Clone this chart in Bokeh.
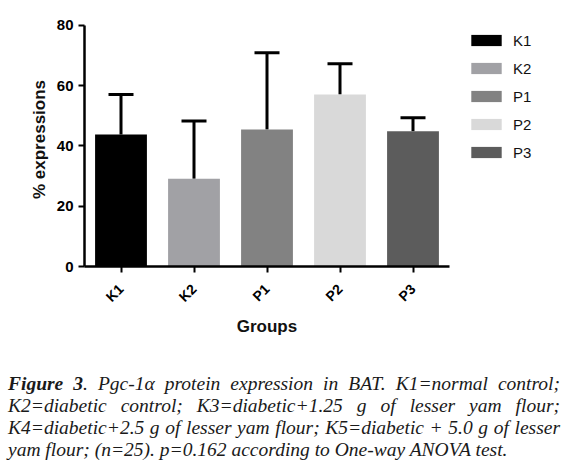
import math
from bokeh.plotting import figure
from bokeh.models import (ColumnDataSource, FactorRange, Range1d, Whisker, TeeHead,
                          Legend, LegendItem, Div, FixedTicker)
from bokeh.layouts import column
from bokeh.embed import file_html
from bokeh.resources import INLINE

# ---- data ----
groups = ["K1", "K2", "P1", "P2", "P3"]
means = [43.8, 29.1, 45.5, 57.1, 44.9]
errors = [13.3, 19.2, 25.4, 10.2, 4.5]
colors = ["#000000", "#a1a1a5", "#828282", "#d9d9d9", "#5c5c5c"]
y_ticks = [0, 20, 40, 60, 80]
y_label = "% expressions"
x_label = "Groups"
caption_lines = [
    "<b>Figure 3</b>. Pgc-1α protein expression in BAT. K1=normal control;",
    "K2=diabetic control; K3=diabetic+1.25 g of lesser yam flour;",
    "K4=diabetic+2.5 g of lesser yam flour; K5=diabetic + 5.0 g of lesser",
    "yam flour; (n=25). p=0.162 according to One-way ANOVA test.",
]

upper = [m + e for m, e in zip(means, errors)]
src = ColumnDataSource(dict(group=groups, mean=means, upper=upper, color=colors))

p = figure(x_range=FactorRange(factors=groups, range_padding=0),
           y_range=Range1d(0, 84.3),
           frame_width=365, frame_height=254,
           min_border_left=84, min_border_right=99,
           min_border_top=12, min_border_bottom=107,
           output_backend="svg", toolbar_location=None)

r = p.vbar(x="group", top="mean", bottom=0, width=0.71, source=src,
           fill_color="color", line_color=None)

w = Whisker(source=src, base="group", upper="upper", lower="mean",
            dimension="height", line_width=3, line_color="black",
            upper_head=TeeHead(size=25, line_width=3, line_color="black"),
            lower_head=None)
p.add_layout(w)

items = [LegendItem(label=g, renderers=[r], index=i) for i, g in enumerate(groups)]
legend = Legend(items=items, location="top_left", margin=18, padding=0,
                border_line_color=None, background_fill_alpha=0,
                glyph_width=38, glyph_height=14, label_standoff=8,
                spacing=8, label_height=20,
                label_text_font="Liberation Sans", label_text_font_size="15px",
                label_text_color="#111111")
p.add_layout(legend, "right")

p.xgrid.visible = False
p.ygrid.visible = False
p.outline_line_color = None

for ax in (p.xaxis[0], p.yaxis[0]):
    ax.axis_line_width = 2.5
    ax.axis_line_color = "black"
    ax.major_tick_line_width = 2
    ax.major_tick_line_color = "black"
    ax.major_tick_in = 0
    ax.major_tick_out = 6
    ax.minor_tick_line_color = None
    ax.major_label_text_font = "Liberation Sans"
    ax.major_label_text_font_style = "bold"
    ax.major_label_text_color = "black"
    ax.axis_label_text_font = "Liberation Sans"
    ax.axis_label_text_font_style = "bold"
    ax.axis_label_text_font_size = "17px"
    ax.axis_label_text_color = "#111111"

p.yaxis.ticker = FixedTicker(ticks=y_ticks)
p.yaxis.bounds = (0, 80)
p.yaxis.major_label_text_font_size = "15px"
p.yaxis.major_label_standoff = 5
p.yaxis.axis_label = y_label
p.yaxis.axis_label_standoff = 5

p.xaxis.axis_label = x_label
p.xaxis.major_label_orientation = math.pi / 4
p.xaxis.major_label_text_font_size = "14px"
p.xaxis.major_label_standoff = 14
p.xaxis.axis_label_standoff = 4

rows = []
for i, line in enumerate(caption_lines):
    last = "justify" if i < len(caption_lines) - 1 else "left"
    rows.append(f'<div style="text-align:justify;text-align-last:{last};white-space:nowrap;">{line}</div>')
html = ('<div style="font-family:\'Liberation Serif\';font-style:italic;font-size:19.5px;'
        'line-height:22px;color:#1a1a1a;width:552px;">' + "".join(rows) + '</div>')
cap = Div(text=html, width=552, margin=(0, 0, 0, 8))

layout = column(p, cap, spacing=0)
open("out.html", "w").write(file_html(layout, INLINE))
